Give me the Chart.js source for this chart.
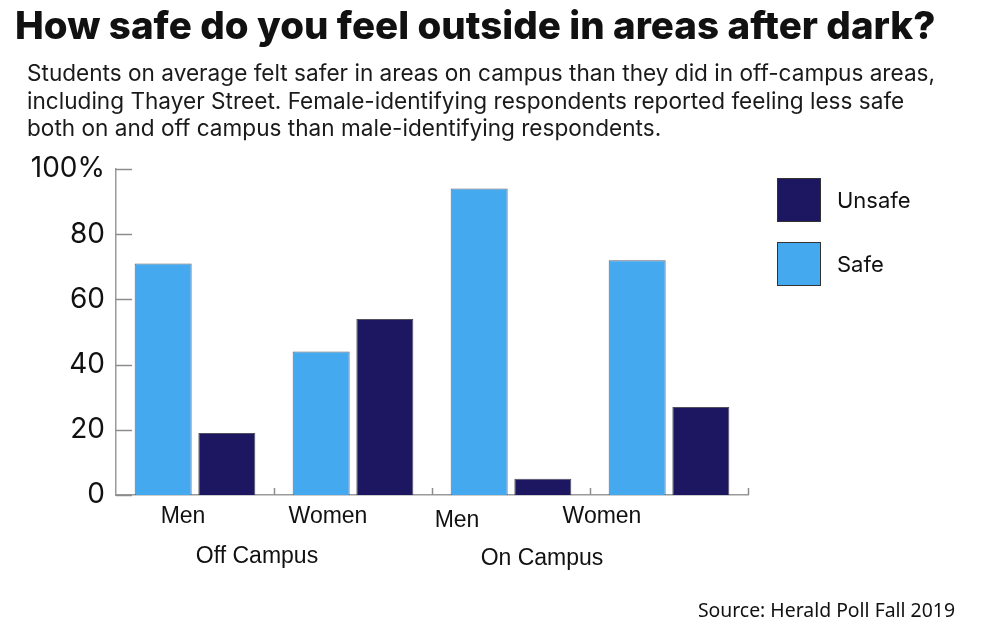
<!DOCTYPE html>
<html>
<head>
<meta charset="utf-8">
<script src="https://cdn.jsdelivr.net/npm/chart.js@4.4.1/dist/chart.umd.min.js"></script>
<style>
    html, body { margin: 0; padding: 0; background: #fff; }
    .page { position: relative; width: 1000px; height: 638px; overflow: hidden; font-family: 'Inter', sans-serif; color: #111; }
    #chart { position: absolute; left: 0; top: 0; }
    .title { position: absolute; left: 15px; top: 3px; font-size: 38.5px; font-weight: 800; letter-spacing: 0; line-height: 44px; white-space: nowrap; }
    .subtitle { position: absolute; left: 27px; top: 59px; font-size: 22.6px; line-height: 27.5px; color: #1a1a1a; white-space: nowrap; }
    .legend { position: absolute; left: 777px; top: 178px; }
    .legend .item { display: flex; align-items: center; height: 43px; margin-bottom: 21px; font-size: 22px; color: #111; }
    .legend .box { width: 42px; height: 42px; border: 1px solid #333; margin-right: 16px; }
    .source { position: absolute; right: 45px; top: 596px; font-family: 'Noto Sans', sans-serif; font-size: 19.4px; color: #111; white-space: nowrap; }
</style>
</head>
<body>
<div class="page">
    <canvas id="chart" width="1000" height="638"></canvas>
    <div class="title">How safe do you feel outside in areas after dark?</div>
    <div class="subtitle">Students on average felt safer in areas on campus than they did in off-campus areas,<br>including Thayer Street. Female-identifying respondents reported feeling less safe<br>both on and off campus than male-identifying respondents.</div>
    <div class="legend" id="legend"></div>
    <div class="source">Source: Herald Poll Fall 2019</div>
</div>
<script>
    // Data
    const categories = ['Men', 'Women', 'Men', 'Women'];
    const groups = ['Off Campus', 'On Campus'];
    const safeValues = [71, 44, 94, 72];
    const unsafeValues = [19, 54, 5, 27];
    const yTicks = [0, 20, 40, 60, 80, 100];

    const SAFE = '#45a9ef';
    const UNSAFE = '#1c1760';

    // Label nudges (the original labels sit a little left of the bar groups)
    const catLabelShift = [-12, -25, -54, -67];
    const catLabelBaseline = [28, 28, 32, 28];
    const groupLabelShift = [-17, -48];
    const groupLabelBaseline = [68, 70];

    // Legend (Unsafe on top)
    const legend = document.getElementById('legend');
    [['Unsafe', UNSAFE], ['Safe', SAFE]].forEach(([name, color]) => {
        const item = document.createElement('div');
        item.className = 'item';
        item.innerHTML = `<span class="box" style="background:${color}"></span>${name}`;
        legend.appendChild(item);
    });

    // Inward tick marks + category / group labels
    const axisDecor = {
        id: 'axisDecor',
        afterDatasetsDraw: (chart) => {
            const { ctx, chartArea, scales: { x, y } } = chart;
            ctx.save();
            ctx.strokeStyle = '#8c8c8c';
            ctx.lineWidth = 1.5;
            yTicks.forEach(v => {
                const py = Math.round(y.getPixelForValue(v)) + 0.5;
                ctx.beginPath();
                ctx.moveTo(chartArea.left, py);
                ctx.lineTo(chartArea.left + 16, py);
                ctx.stroke();
            });
            const step = x.getPixelForValue(1) - x.getPixelForValue(0);
            for (let i = 0; i < categories.length; i++) {
                const px = Math.round(x.getPixelForValue(i) + step / 2) + 0.5;
                ctx.beginPath();
                ctx.moveTo(px, chartArea.bottom);
                ctx.lineTo(px, chartArea.bottom - 7);
                ctx.stroke();
            }

            ctx.fillStyle = '#111';
            ctx.font = '23px "Liberation Sans", Arial, sans-serif';
            ctx.textAlign = 'center';
            ctx.textBaseline = 'alphabetic';
            categories.forEach((c, i) => {
                ctx.fillText(c, x.getPixelForValue(i) + catLabelShift[i], chartArea.bottom + catLabelBaseline[i]);
            });
            groups.forEach((g, i) => {
                const mid = (x.getPixelForValue(i * 2) + x.getPixelForValue(i * 2 + 1)) / 2;
                ctx.fillText(g, mid + groupLabelShift[i], chartArea.bottom + groupLabelBaseline[i]);
            });
            ctx.restore();
        }
    };

    new Chart(document.getElementById('chart').getContext('2d'), {
        type: 'bar',
        plugins: [axisDecor],
        data: {
            labels: categories,
            datasets: [
                {
                    label: 'Safe',
                    data: safeValues,
                    backgroundColor: SAFE,
                    borderColor: 'rgba(40,45,60,0.75)',
                    borderWidth: 1,
                    categoryPercentage: 0.806,
                    barPercentage: 0.895
                },
                {
                    label: 'Unsafe',
                    data: unsafeValues,
                    backgroundColor: UNSAFE,
                    borderColor: 'rgba(20,20,40,0.75)',
                    borderWidth: 1,
                    categoryPercentage: 0.806,
                    barPercentage: 0.895
                }
            ]
        },
        options: {
            responsive: false,
            animation: false,
            layout: { padding: { top: 169, right: 252, bottom: 143, left: 0 } },
            plugins: {
                legend: { display: false },
                tooltip: { enabled: false }
            },
            scales: {
                x: {
                    grid: { display: false },
                    border: { display: true, color: '#9a9a9a', width: 1.5 },
                    ticks: { display: false },
                    afterFit: (s) => { s.height = 0; }
                },
                y: {
                    min: 0,
                    max: 100,
                    afterBuildTicks: (s) => { s.ticks = yTicks.map(v => ({ value: v })); },
                    grid: { display: false },
                    border: { display: true, color: '#9a9a9a', width: 1.5 },
                    ticks: {
                        padding: 3,
                        color: '#111',
                        font: { family: 'Inter', size: 28 },
                        callback: (v) => v === 100 ? '100%' : v
                    },
                    afterFit: (s) => { s.width = 116; }
                }
            }
        }
    });
</script>
</body>
</html>
